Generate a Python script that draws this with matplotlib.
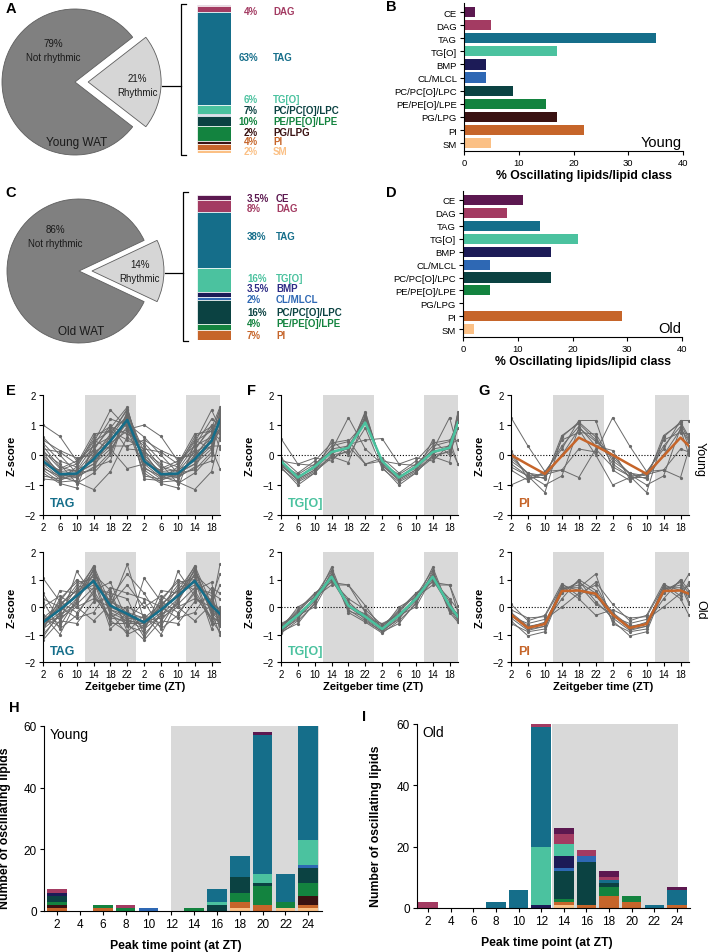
import numpy as np
import matplotlib
matplotlib.use('Agg')
import matplotlib.pyplot as plt
from matplotlib.lines import Line2D

plt.rcParams['font.family'] = ['Liberation Sans', 'DejaVu Sans']
plt.rcParams['axes.linewidth'] = 0.8

W, H = 708, 953

classes = ['CE', 'DAG', 'TAG', 'TG[O]', 'BMP', 'CL/MLCL', 'PC/PC[O]/LPC',
           'PE/PE[O]/LPE', 'PG/LPG', 'PI', 'SM']
class_colors = ['#5C1850', '#A33B62', '#156E8A', '#4BC29F', '#1C1B57', '#2E68B4',
                '#0B4242', '#13833F', '#3A1212', '#C6652A', '#FBC085']
label_colors = dict(zip(classes, class_colors))
label_colors['BMP'] = '#2D2B85'

# pies (% rhythmic lipids)
young_rhythmic = 21
old_rhythmic = 14

# composition of the rhythmic lipids, same order as classes
young_share = [0.5, 4, 63, 6, 0.8, 0.8, 7, 10, 2, 4, 2]
old_share = [3.5, 8, 38, 16, 3.5, 2, 16, 4, 0, 7, 0]
young_share_names = ['DAG', 'TAG', 'TG[O]', 'PC/PC[O]/LPC', 'PE/PE[O]/LPE', 'PG/LPG', 'PI', 'SM']
young_share_text = ['4%', '63%', '6%', '7%', '10%', '2%', '4%', '2%']
old_share_names = ['CE', 'DAG', 'TAG', 'TG[O]', 'BMP', 'CL/MLCL', 'PC/PC[O]/LPC', 'PE/PE[O]/LPE', 'PI']
old_share_text = ['3.5%', '8%', '38%', '16%', '3.5%', '2%', '16%', '4%', '7%']

# % oscillating lipids per class
young_pct_class = [2, 5, 35, 17, 4, 4, 9, 15, 17, 22, 5]
old_pct_class = [11, 8, 14, 21, 16, 5, 16, 5, 0, 29, 2]

# z-score profiles, ZT2..ZT22 (double plotted)
zt_ticks = [2, 6, 10, 14, 18, 22, 26, 30, 34, 38, 42]
zt_labels = [2, 6, 10, 14, 18, 22, 2, 6, 10, 14, 18]
x_plot = [2, 6, 10, 14, 18, 22, 26, 30, 34, 38, 42, 44]
dark_phase = [(12, 24), (36, 44)]

young_tag_mean = [-0.2, -0.64, -0.62, -0.14, 0.47, 1.17]
young_tag = [
    [-0.2, -0.7, -0.65, -0.1, 0.5, 1.2], [-0.3, -0.75, -0.7, 0.0, 0.6, 1.35],
    [-0.1, -0.55, -0.5, -0.2, 0.3, 1.1], [-0.4, -0.8, -0.75, -0.05, 0.7, 1.5],
    [0.0, -0.6, -0.6, -0.3, 0.2, 0.95], [-0.5, -0.9, -0.85, 0.2, 0.9, 1.6],
    [0.3, -0.4, -0.55, 0.1, 0.4, 0.8], [1.0, 0.62, -0.2, 0.3, 0.6, 0.85],
    [-0.6, -0.95, -1.1, 0.4, 1.5, 0.9], [0.2, 0.1, -0.3, 0.7, 0.8, 0.5],
    [-0.3, -0.5, -0.3, 0.5, 0.2, -0.45], [0.1, -0.7, -0.9, -1.15, -0.55, 0.6],
    [-0.8, -0.85, -0.6, -0.5, 0.1, 1.3], [0.4, -0.2, -0.4, 0.6, 0.95, 0.7],
    [-0.1, -0.65, -0.75, -0.4, -0.2, 1.5], [0.5, 0.15, -0.1, 0.0, 0.3, 0.3],
    [-0.45, -0.7, -0.5, 0.3, 1.2, 1.0], [0.1, -0.3, -0.95, -0.6, 0.0, 1.4],
    [-0.7, -0.8, -0.4, 0.45, 0.8, 1.25], [0.6, 0.0, -0.6, -0.3, 0.5, 1.05],
    [-0.25, -0.6, -0.7, -0.45, 0.65, 1.55], [0.15, -0.45, -0.2, 0.15, 1.0, 0.2],
]
old_tag_mean = [-0.56, -0.1, 0.4, 0.95, 0.05, -0.25]
old_tag = [
    [-0.6, -0.1, 0.45, 1.0, 0.0, -0.3], [-0.7, -0.2, 0.5, 1.3, -0.1, -0.45],
    [-0.5, 0.0, 0.4, 1.5, 0.1, -0.4], [-0.8, -0.3, 0.3, 1.2, -0.2, -0.5],
    [-0.4, 0.1, 0.6, 0.9, 0.2, -0.2], [-1.2, -0.5, 0.2, 1.4, -0.3, -0.6],
    [1.05, 0.2, -0.2, 0.5, -0.5, -0.9], [-0.3, -0.6, 1.3, 0.4, -0.4, 0.0],
    [-0.5, -0.4, 0.0, 0.3, 0.0, 1.55], [-0.9, 0.6, 0.5, 0.8, 0.4, -0.7],
    [0.2, -0.8, -0.3, 0.6, 0.9, -0.5], [-0.6, 0.0, 0.8, 1.1, -0.6, -0.6],
    [-1.0, -0.3, 0.1, 0.7, 0.5, 0.3], [0.5, -0.5, -0.6, 0.2, 0.3, 1.2],
    [-0.8, 0.3, 0.9, 1.0, -0.8, -0.2], [-0.3, -1.0, 0.2, 1.2, 0.6, -0.9],
    [-0.7, 0.1, 0.6, 1.45, -0.2, -1.0], [0.0, 0.4, 0.0, -0.5, 0.1, 0.8],
    [-1.1, -0.2, 0.7, 0.9, 0.2, -0.1], [-0.4, -0.7, 0.3, 1.35, -0.1, -0.3],
    [-0.6, 0.2, 1.0, 0.6, -0.4, -0.5], [0.3, 0.0, -0.4, -0.2, 0.7, 0.5],
]
young_tgo_mean = [-0.2, -0.75, -0.39, 0.1, 0.24, 1.08]
young_tgo = [
    [-0.3, -0.8, -0.5, 0.1, 0.2, 1.3], [-0.4, -1.0, -0.6, 0.0, 0.1, 1.45],
    [-0.25, -0.7, -0.45, 0.2, 0.3, 1.2], [-0.35, -0.85, -0.55, -0.1, 0.15, 1.4],
    [-0.2, -0.75, -0.35, 0.3, 0.45, 1.1], [0.55, -0.3, -0.1, -0.2, 0.35, 0.5],
    [-0.45, -0.9, -0.6, 0.5, 0.0, 0.9], [-0.3, -0.65, -0.3, 0.15, 1.25, 0.2],
    [-0.1, -0.6, -0.2, 0.4, 0.5, -0.3], [-0.35, -0.8, -0.5, -0.05, -0.25, 1.3],
    [-0.2, -0.3, -0.35, 0.05, 0.3, -0.3],
]
old_tgo_mean = [-0.8, -0.3, 0.3, 1.1, 0.05, -0.35]
old_tgo = [
    [-0.85, -0.35, 0.3, 1.2, 0.0, -0.4], [-0.9, -0.4, 0.2, 1.45, -0.1, -0.5],
    [-0.75, -0.2, 0.45, 1.0, 0.1, -0.3], [-0.95, -0.5, 0.1, 1.3, -0.2, -0.55],
    [-0.7, -0.1, 0.5, 0.9, 0.8, -0.2], [-0.8, 0.0, 0.35, 0.8, 0.8, 0.05],
    [-0.6, -0.3, 0.0, 1.1, 0.2, -0.4], [-0.85, -0.45, 0.4, 1.35, -0.15, -0.35],
    [-0.65, -0.25, 0.25, 0.95, 0.3, -0.1], [-0.9, -0.6, 0.15, 1.15, 0.05, -0.45],
    [-0.75, -0.15, 0.5, 1.0, 0.0, -0.25],
]
young_pi_mean = [0.0, -0.32, -0.63, -0.03, 0.58, 0.3]
young_pi = [
    [1.25, 0.3, -0.55, -0.5, 0.2, 0.1], [-0.3, -0.7, -1.25, 0.6, 1.1, 0.6],
    [-0.1, -0.6, -0.8, 0.65, 1.05, 0.5], [0.15, -0.8, -0.6, 0.3, 0.95, 0.3],
    [-0.5, -0.85, -0.55, 0.2, 1.15, 1.15], [-0.4, -0.7, -0.65, -0.5, -0.75, 0.2],
    [0.0, -0.65, -1.0, -0.7, 0.9, 0.45], [-1.0, -0.75, -0.75, 0.0, 0.85, 0.0],
    [-0.2, -0.6, -0.7, 0.5, 0.75, 0.7],
]
old_pi_mean = [-0.28, -0.76, -0.62, 0.58, 0.6, 0.48]
old_pi = [
    [-0.3, -0.8, -0.7, 0.8, 0.6, 0.4], [-0.5, -1.05, -0.9, 0.6, 0.9, 0.5],
    [0.1, -0.5, -0.3, 0.85, 0.4, 0.9], [-0.2, -0.7, -0.6, 0.3, 1.0, 0.6],
    [-0.6, -0.9, -0.8, 0.7, 0.7, 1.2], [-0.35, -0.6, -0.45, 0.0, 0.5, 0.8],
    [-0.1, -0.4, -0.35, 0.75, 0.3, -0.3], [-0.4, -0.85, -0.7, 0.5, 0.95, 0.2],
    [-0.25, -0.75, -0.55, 0.65, 0.8, 0.1],
]

# number of oscillating lipids by peak time, rows in class order
peak_zt = [2, 4, 6, 8, 10, 12, 14, 16, 18, 20, 22, 24]
young_peak_counts = [
    [0, 0, 0, 0, 0, 0, 0, 0, 0, 1, 0, 0],    # CE
    [1, 0, 0, 1, 0, 0, 0, 0, 0, 0, 0, 0],    # DAG
    [0, 0, 0, 0, 0, 0, 0, 4, 7, 45, 9, 37],  # TAG
    [0, 0, 0, 0, 0, 0, 0, 1, 0, 3, 0, 8],    # TG[O]
    [1, 0, 0, 0, 0, 0, 0, 0, 0, 0, 0, 0],    # BMP
    [0, 0, 0, 0, 1, 0, 0, 0, 0, 0, 0, 1],    # CL/MLCL
    [2, 0, 0, 0, 0, 0, 0, 2, 5, 1, 0, 5],    # PC
    [1, 0, 1, 1, 0, 0, 1, 0, 3, 6, 2, 4],    # PE
    [1, 0, 0, 0, 0, 0, 0, 0, 0, 0, 0, 3],    # PG
    [1, 0, 1, 0, 0, 0, 0, 0, 2, 2, 0, 1],    # PI
    [0, 0, 0, 0, 0, 0, 0, 0, 1, 0, 1, 1],    # SM
]
old_peak_counts = [
    [0, 0, 0, 0, 0, 0, 2, 0, 2, 0, 0, 1],    # CE
    [2, 0, 0, 0, 0, 1, 3, 2, 1, 0, 0, 0],    # DAG
    [0, 0, 0, 2, 6, 39, 0, 0, 1, 0, 1, 5],   # TAG
    [0, 0, 0, 0, 0, 19, 4, 0, 0, 0, 0, 0],   # TG[O]
    [0, 0, 0, 0, 0, 1, 4, 0, 0, 0, 0, 0],    # BMP
    [0, 0, 0, 0, 0, 0, 1, 2, 0, 0, 0, 0],    # CL/MLCL
    [0, 0, 0, 0, 0, 0, 9, 14, 1, 0, 0, 0],   # PC
    [0, 0, 0, 0, 0, 0, 1, 0, 3, 2, 0, 0],    # PE
    [0, 0, 0, 0, 0, 0, 0, 0, 0, 0, 0, 0],    # PG
    [0, 0, 0, 0, 0, 0, 1, 1, 4, 2, 0, 1],    # PI
    [0, 0, 0, 0, 0, 0, 1, 0, 0, 0, 0, 0],    # SM
]

fig = plt.figure(figsize=(W / 100, H / 100), dpi=100)


def px_axes(left, top, right, bottom):
    return fig.add_axes([left / W, 1 - bottom / H, (right - left) / W, (bottom - top) / H])


def px_text(x, y, s, **kw):
    fig.text(x / W, 1 - y / H, s, **kw)


def px_line(xs, ys, **kw):
    fig.add_artist(Line2D([x / W for x in xs], [1 - y / H for y in ys],
                          transform=fig.transFigure, **kw))


def style_axes(ax, size):
    for s in ['top', 'right']:
        ax.spines[s].set_visible(False)
    ax.tick_params(direction='out', length=3, width=0.8, labelsize=size, pad=2)


def pie_panel(box, cx, cy, r, rhythmic, name, big_pos, small_pos):
    l, t, rr, b = box
    ax = px_axes(*box)
    ax.pie([rhythmic, 100 - rhythmic], explode=[0.18, 0], startangle=-rhythmic * 1.8,
           colors=['#D6D6D6', '#808080'],
           wedgeprops=dict(edgecolor='#5E5E5E', linewidth=0.6))
    ax.set_aspect('auto')
    ax.set_xlim((l - cx) / r, (rr - cx) / r)
    ax.set_ylim((cy - b) / r, (cy - t) / r)
    px_text(*big_pos, f'{100 - rhythmic}%\nNot rhythmic', ha='center', va='center',
            fontsize=7, color='#1A1A1A', linespacing=1.4)
    px_text(*small_pos, f'{rhythmic}%\nRhythmic', ha='center', va='center',
            fontsize=7, color='#1A1A1A', linespacing=1.4)
    px_text(cx + 2, cy + 60, name, ha='center', va='center', fontsize=8.5, color='#1A1A1A')


def share_bar(box, shares):
    ax = px_axes(*box)
    bottom = 0
    for val, col in zip(shares, class_colors):
        if val > 0:
            ax.bar(0, val, bottom=bottom, width=1, color=col, edgecolor='white', linewidth=0.5)
        bottom += val
    ax.set_xlim(-0.5, 0.5)
    ax.set_ylim(bottom, 0)
    ax.axis('off')


def share_labels(names, texts, ys, pct_x, pct_ha, name_x):
    for n, s, y in zip(names, texts, ys):
        c = label_colors[n]
        px_text(pct_x, y, s, ha=pct_ha, va='center', fontsize=7, fontweight='bold', color=c)
        px_text(name_x, y, n, ha='left', va='center', fontsize=7, fontweight='bold', color=c)


def bracket(x, y0, y1, yc, x_from):
    px_line([x + 5, x, x, x + 5], [y0, y0, y1, y1], color='black', lw=0.9)
    px_line([x_from, x], [yc, yc], color='black', lw=0.9)


def class_bar(box, vals, tag):
    ax = px_axes(*box)
    y = np.arange(len(classes))
    ax.barh(y, vals, height=0.78, color=class_colors)
    ax.set_ylim(10.6, -0.69)
    ax.set_yticks(y)
    ax.set_yticklabels(classes)
    ax.set_xlim(0, 40)
    ax.set_xticks([0, 10, 20, 30, 40])
    style_axes(ax, 6.8)
    ax.set_xlabel('% Oscillating lipids/lipid class', fontsize=8.8, fontweight='bold')
    ax.xaxis.set_label_coords(0.55, -0.125)
    ax.text(0.995, 0.035, tag, transform=ax.transAxes, ha='right', va='baseline', fontsize=10.5)


def line_panel(box, traces, mean, color, name, xlabel):
    ax = px_axes(*box)
    for lo, hi in dark_phase:
        ax.axvspan(lo, hi, color='#D9D9D9', lw=0)
    ax.axhline(0, color='black', lw=0.8, ls=(0, (1, 1.6)))
    for tr in traces:
        ax.plot(x_plot, tr + tr, color='#6A6A6A', lw=0.7, marker='o', ms=1.3)
    ax.plot(x_plot, mean + mean, color=color, lw=1.8)
    ax.set_xlim(2, 44)
    ax.set_ylim(-2, 2)
    ax.set_xticks(zt_ticks)
    ax.set_xticklabels(zt_labels)
    ax.set_yticks([-2, -1, 0, 1, 2])
    style_axes(ax, 7)
    ax.set_ylabel('Z-score', fontsize=8, fontweight='bold')
    ax.yaxis.set_label_coords(-0.147, 0.5)
    ax.text(0.04, 0.075, name, transform=ax.transAxes, color=color, fontsize=9,
            fontweight='bold', va='baseline')
    if xlabel:
        ax.set_xlabel('Zeitgeber time (ZT)', fontsize=8, fontweight='bold')
        ax.xaxis.set_label_coords(0.52, -0.17)


def peak_bar(box, counts, xlim, shade, tag, lab_x):
    ax = px_axes(*box)
    ax.axvspan(*shade, color='#D9D9D9', lw=0)
    bottom = np.zeros(len(peak_zt))
    for row, col in reversed(list(zip(counts, class_colors))):
        row = np.array(row, dtype=float)
        ax.bar(peak_zt, row, bottom=bottom, width=1.72, color=col, lw=0)
        bottom += row
    ax.set_xlim(*xlim)
    ax.set_ylim(0, 60)
    ax.set_xticks(peak_zt)
    ax.set_yticks([0, 20, 40, 60])
    style_axes(ax, 8.5)
    ax.set_ylabel('Number of oscillating lipids', fontsize=8.8, fontweight='bold')
    ax.yaxis.set_label_coords(lab_x, 0.45)
    ax.set_xlabel('Peak time point (at ZT)', fontsize=8.8, fontweight='bold')
    ax.xaxis.set_label_coords(0.475, -0.15)
    ax.text(0.02, 0.995, tag, transform=ax.transAxes, ha='left', va='top', fontsize=10)


# A / C
pie_panel((0, 0, 180, 170), 75, 83, 73, young_rhythmic, 'Young WAT', (53, 51), (137, 86))
pie_panel((0, 185, 180, 360), 79, 272, 72, old_rhythmic, 'Old WAT', (55, 237), (140, 272))
bracket(181, 5, 156, 87, 162)
bracket(183, 193, 342, 274, 165)
share_bar((197, 6, 231, 154), young_share)
share_bar((197, 196, 231, 341), old_share)
share_labels(young_share_names, young_share_text, [12, 58, 100, 111, 122, 133, 142, 152],
             258, 'right', 273)
share_labels(old_share_names, old_share_text, [199, 209, 237, 279, 289, 300, 313, 324, 336],
             247, 'left', 276)

# B / D
class_bar((464, 4, 683, 152), young_pct_class, 'Young')
class_bar((463, 192, 682, 338), old_pct_class, 'Old')

# E / F / G
line_panel((43, 396, 220, 516), young_tag, young_tag_mean, '#156E8A', 'TAG', False)
line_panel((43, 553, 220, 663), old_tag, old_tag_mean, '#156E8A', 'TAG', True)
line_panel((281, 396, 458, 516), young_tgo, young_tgo_mean, '#4BC29F', 'TG[O]', False)
line_panel((281, 553, 458, 663), old_tgo, old_tgo_mean, '#4BC29F', 'TG[O]', True)
line_panel((511, 396, 689, 516), young_pi, young_pi_mean, '#C6652A', 'PI', False)
line_panel((511, 553, 689, 663), old_pi, old_pi_mean, '#C6652A', 'PI', True)
px_text(700, 460, 'Young', rotation=270, ha='center', va='center', fontsize=9)
px_text(700, 610, 'Old', rotation=270, ha='center', va='center', fontsize=9)

# H / I
peak_bar((44, 727, 322, 912), young_peak_counts, (0.86, 25.2), (12.0, 24.9), 'Young', -0.12)
peak_bar((417, 725, 690, 909), old_peak_counts, (1.03, 25.15), (13.0, 24.1), 'Old', -0.128)

for letter, x, y in [('A', 11, 9), ('B', 391, 7), ('C', 11, 193), ('D', 391, 193),
                     ('E', 11, 391), ('F', 251, 391), ('G', 484, 391),
                     ('H', 14, 708), ('I', 364, 717)]:
    px_text(x, y, letter, ha='center', va='center', fontsize=10.5, fontweight='bold')

fig.savefig('out.png', dpi=100)
